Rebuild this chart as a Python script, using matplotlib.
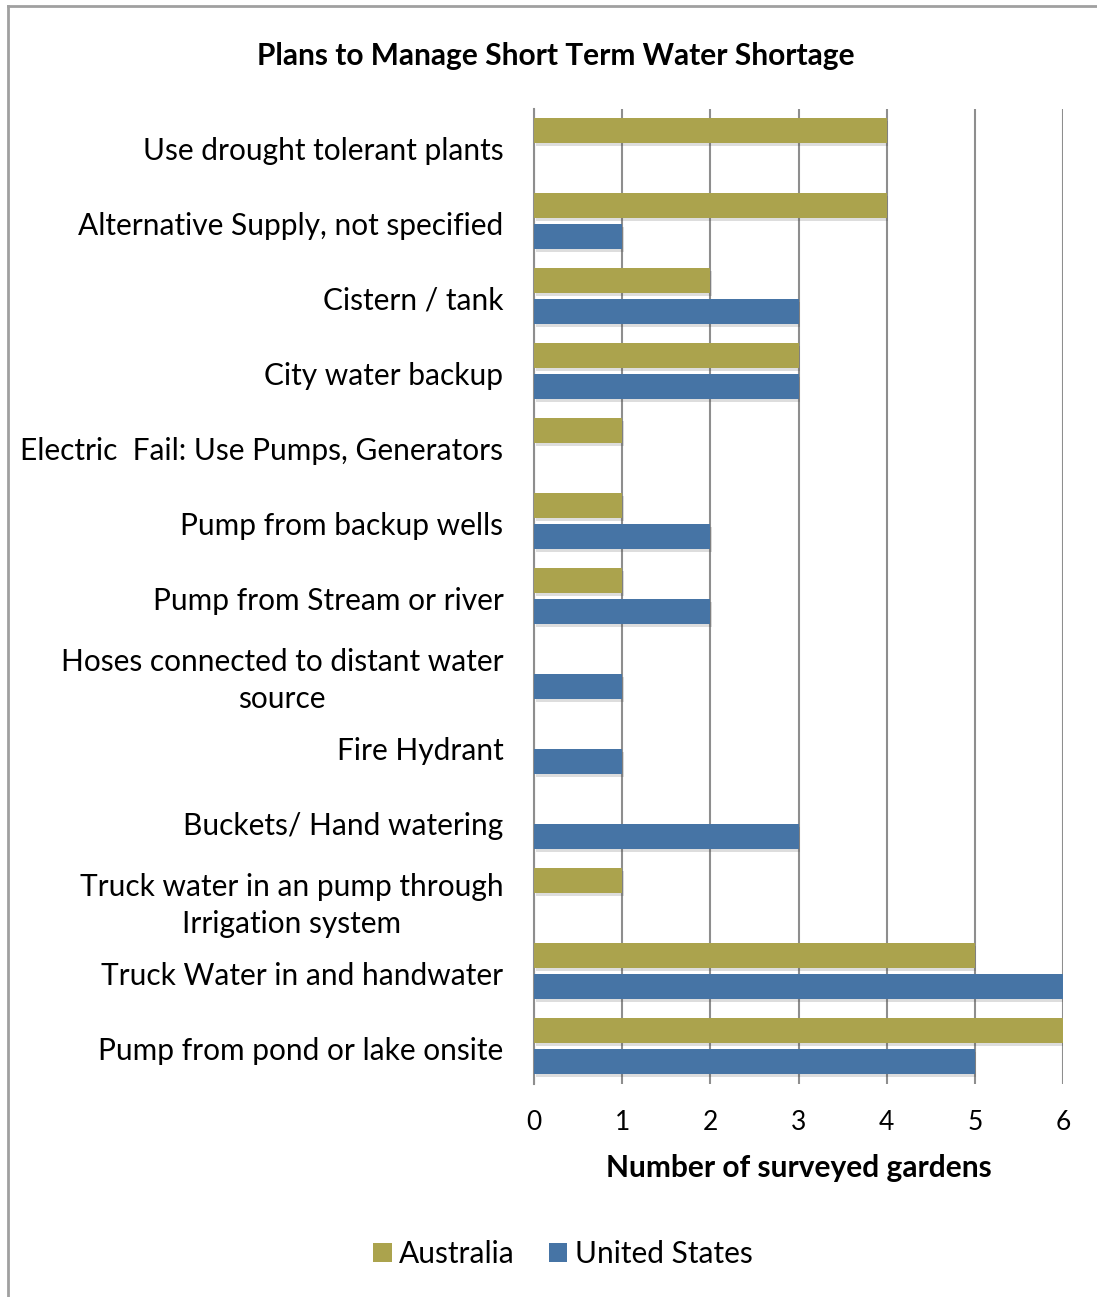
import matplotlib
matplotlib.use("Agg")
import matplotlib.pyplot as plt
import matplotlib.patheffects as pe
from matplotlib.lines import Line2D
from matplotlib.patches import Patch
import numpy as np

categories = [
    "Use drought tolerant plants",
    "Alternative Supply, not specified",
    "Cistern / tank",
    "City water backup",
    "Electric  Fail: Use Pumps, Generators",
    "Pump from backup wells",
    "Pump from Stream or river",
    "Hoses connected to distant water\nsource",
    "Fire Hydrant",
    "Buckets/ Hand watering",
    "Truck water in an pump through\nIrrigation system",
    "Truck Water in and handwater",
    "Pump from pond or lake onsite",
]
australia = [4, 4, 2, 3, 1, 1, 1, 0, 0, 0, 1, 5, 6]
united_states = [0, 1, 3, 3, 0, 2, 2, 1, 1, 3, 0, 6, 5]
x_ticks = [0, 1, 2, 3, 4, 5, 6]

title = "Plans to Manage Short Term Water Shortage"
xlabel = "Number of surveyed gardens"

AU_COLOR = "#ABA34D"
US_COLOR = "#4674A5"
GRID = "#8e8e8e"
FONT = ["Lato", "DejaVu Sans"]

plt.rcParams["font.family"] = FONT

fig = plt.figure(figsize=(10.97, 12.97), dpi=100)
ax = fig.add_axes([534 / 1097, 1 - 1083.5 / 1297, (1063 - 534) / 1097, (1083.5 - 108.5) / 1297])

y = np.arange(len(categories))
h = 25 / 75
off = 15.5 / 75
shadow = [pe.SimplePatchShadow(offset=(1.2, -2.0), alpha=0.18, shadow_rgbFace="#444444"), pe.Normal()]
b1 = ax.barh(y - off, australia, height=h, color=AU_COLOR, zorder=3)
b2 = ax.barh(y + off, united_states, height=h, color=US_COLOR, zorder=3)
for b in list(b1) + list(b2):
    b.set_path_effects(shadow)

ax.set_ylim(len(categories) - 0.5, -0.5)
ax.set_xlim(0, 6)
ax.set_xticks(x_ticks)
ax.set_xticklabels([str(t) for t in x_ticks], fontsize=19)
ax.set_yticks(y + 0.03)
ax.set_yticklabels(categories, fontsize=21.5, linespacing=1.42)
for lbl in ax.get_yticklabels():
    lbl.set_multialignment("center")
ax.tick_params(axis="y", length=0, pad=22)
ax.tick_params(axis="x", length=0, pad=19)
ax.xaxis.grid(True, color=GRID, linewidth=1.5, zorder=0)
ax.set_axisbelow(True)
for s in ["top", "right", "bottom"]:
    ax.spines[s].set_visible(False)
ax.spines["left"].set_color(GRID)
ax.spines["left"].set_linewidth(1.5)

ax.set_xlabel(xlabel, fontsize=21.5, fontweight="bold", labelpad=14)

fig.text(556 / 1097, 1 - 56 / 1297, title, ha="center", va="center",
         fontsize=21.5, fontweight="bold")

handles = [Patch(facecolor=AU_COLOR, label="Australia"),
           Patch(facecolor=US_COLOR, label="United States")]
fig.legend(handles=handles, loc="center", bbox_to_anchor=(563 / 1097, 1 - 1254 / 1297),
           ncol=2, frameon=False, fontsize=21.5, handlelength=0.62, handleheight=0.62,
           handletextpad=0.25, columnspacing=1.13)

# outer border (top and left)
fig.add_artist(Line2D([8 / 1097, 8 / 1097], [0, 1 - 6 / 1297], transform=fig.transFigure,
                      color="#a0a0a0", linewidth=2))
fig.add_artist(Line2D([8 / 1097, 1], [1 - 6 / 1297, 1 - 6 / 1297], transform=fig.transFigure,
                      color="#a0a0a0", linewidth=2))

fig.savefig("out.png", dpi=100, facecolor="white")
